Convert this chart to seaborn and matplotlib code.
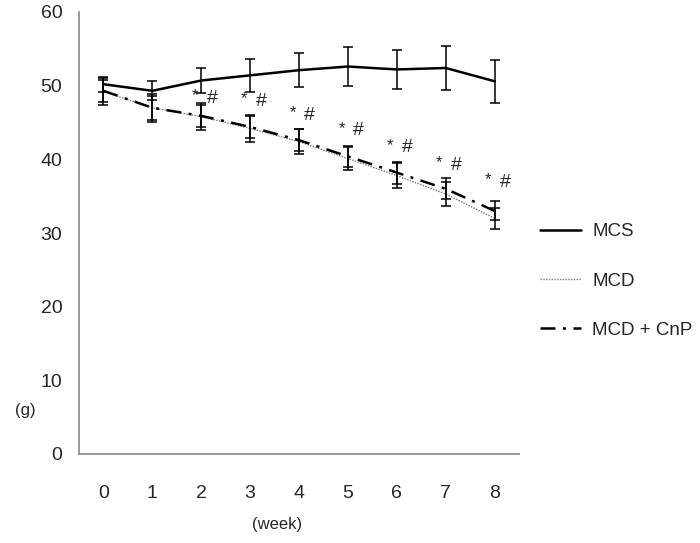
import matplotlib
matplotlib.use("Agg")
import matplotlib.pyplot as plt
from matplotlib.lines import Line2D
import seaborn as sns
import pandas as pd
import numpy as np

weeks = [0, 1, 2, 3, 4, 5, 6, 7, 8]
mcs = [50.2, 49.3, 50.7, 51.4, 52.1, 52.6, 52.2, 52.4, 50.6]
mcs_err = [1.0, 1.3, 1.7, 2.2, 2.3, 2.7, 2.6, 3.0, 2.9]
mcd = [49.2, 47.0, 45.8, 44.2, 42.4, 40.1, 37.8, 35.3, 32.0]
mcd_err = [1.8, 1.9, 1.8, 1.8, 1.7, 1.6, 1.7, 1.6, 1.4]
cnp = [49.3, 47.0, 45.9, 44.4, 42.6, 40.4, 38.2, 36.0, 33.0]
cnp_err = [1.5, 1.6, 1.5, 1.5, 1.5, 1.4, 1.5, 1.4, 1.3]
sig_weeks = [2, 3, 4, 5, 6, 7, 8]
sig_y = [48.6, 48.2, 46.3, 44.2, 41.9, 39.5, 37.2]
labels = ["MCS", "MCD", "MCD + CnP"]

sns.set_style("white")
plt.rcParams["font.family"] = ["Liberation Sans", "DejaVu Sans"]

fig = plt.figure(figsize=(7, 5.43), dpi=100)
ax = fig.add_axes([79/700, 1-454/543, (519-79)/700, (454-12)/543])

df = pd.DataFrame({"week": weeks, "MCS": mcs, "MCD": mcd, "CnP": cnp})

sns.lineplot(data=df, x="week", y="MCD", ax=ax, color="#777777", lw=1.0,
             linestyle=(0, (1, 1)))
sns.lineplot(data=df, x="week", y="CnP", ax=ax, color="black", lw=1.8,
             linestyle=(0, (6, 3, 1.2, 3)))
sns.lineplot(data=df, x="week", y="MCS", ax=ax, color="black", lw=1.8)

for vals, err in [(mcs, mcs_err), (mcd, mcd_err), (cnp, cnp_err)]:
    ax.errorbar(weeks, vals, yerr=err, fmt="none", ecolor="black",
                elinewidth=1.1, capsize=3.8, capthick=1.1)

for w, y in zip(sig_weeks, sig_y):
    ax.text(w - 0.13, y, "*", ha="center", va="center", fontsize=12)
    ax.text(w + 0.22, y - 0.3, "#", ha="center", va="center", fontsize=14)

ax.set_xlim(-0.5, 8.5)
ax.set_ylim(0, 60)
ax.set_xticks(np.arange(-0.5, 9, 1))
ax.set_xticklabels([])
ax.set_xticks(weeks, minor=True)
ax.set_xticklabels([str(w) for w in weeks], minor=True, fontsize=14)
ax.tick_params(axis="x", which="minor", length=0, pad=22)
ax.tick_params(axis="x", which="major", length=6, direction="out",
               color="#888888", width=1)
ax.set_yticks(range(0, 61, 10))
ax.set_yticklabels([str(v) for v in range(0, 61, 10)], fontsize=14)
ax.tick_params(axis="y", length=6, direction="out", color="#888888",
               width=1, pad=6)
ax.set_xlabel("")
ax.set_ylabel("")
for s in ["top", "right"]:
    ax.spines[s].set_visible(False)
for s in ["left", "bottom"]:
    ax.spines[s].set_color("#888888")
    ax.spines[s].set_linewidth(1.2)

fig.text(25/700, 1-410/543, "(g)", ha="center", va="center", fontsize=12)
fig.text(277/700, 1-524/543, "(week)", ha="center", va="center", fontsize=12)

handles = [
    Line2D([], [], color="black", lw=1.8),
    Line2D([], [], color="#777777", lw=1.0, linestyle=(0, (1, 1))),
    Line2D([], [], color="black", lw=1.8, linestyle=(0, (6, 3, 1.2, 3))),
]
fig.legend(handles, labels, loc="center left",
           bbox_to_anchor=(540/700, 1-281/543), frameon=False,
           fontsize=13.5, handlelength=2.2, handletextpad=0.6,
           labelspacing=1.72, borderpad=0, borderaxespad=0)

fig.savefig("out.png", dpi=100)
